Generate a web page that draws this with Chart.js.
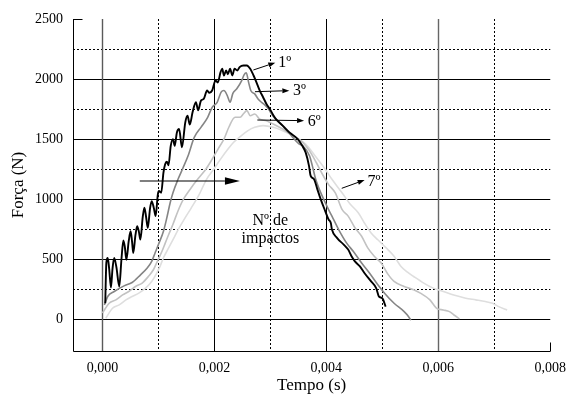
<!DOCTYPE html>
<html><head><meta charset="utf-8">
<script src="https://cdn.jsdelivr.net/npm/chart.js@4.4.1/dist/chart.umd.min.js"></script>
<style>html,body{margin:0;padding:0;background:#fff;}</style>
</head><body>
<canvas id="c" width="575" height="397"></canvas>
<script>
// ---- tick values ----
const xTicks = [0, 0.002, 0.004, 0.006, 0.008];
const yTicks = [0, 500, 1000, 1500, 2000, 2500];
const xMinor = [0.001, 0.003, 0.005, 0.007];
const yMinor = [250, 750, 1250, 1750, 2250];

// ---- series: impact 1 ----
const time1 = [0.00005,0.00007,0.000094,0.00012,0.000152,0.00018,0.00021,0.00025,0.0003,0.00034,0.000374,0.0004,0.000427,0.00047,0.000503,0.00053,0.00055,0.00059,0.00062,0.00065,0.000678,0.00072,0.00075,0.00078,0.00081,0.00085,0.00088,0.00092,0.00095,0.00099,0.00101,0.00105,0.00109,0.00112,0.00115,0.00118,0.00122,0.00126,0.00129,0.00133,0.00137,0.00142,0.00148,0.00152,0.00156,0.00161,0.00167,0.00171,0.00176,0.00181,0.00187,0.00191,0.00196,0.00202,0.00206,0.00211,0.00214,0.00217,0.00221,0.00224,0.00228,0.00232,0.00236,0.00241,0.00245,0.00252,0.00258,0.00264,0.0027,0.00275,0.00281,0.00287,0.00293,0.00299,0.00305,0.0031,0.00322,0.00334,0.00349,0.00357,0.00363,0.00369,0.00372,0.00378,0.00384,0.0039,0.00398,0.00404,0.00408,0.0041,0.00419,0.00431,0.00439,0.00445,0.00451,0.0046,0.00468,0.0048,0.00489,0.00494,0.005,0.00506];
const force1 = [131,470,508,420,262,420,508,430,271,500,655,600,494,650,731,640,550,700,773,730,662,850,927,850,759,920,982,920,857,1038,1066,1052,1220,1290,1310,1280,1443,1499,1443,1555,1583,1430,1639,1694,1620,1722,1806,1740,1820,1834,1904,1885,1904,1988,1970,2057,2085,2029,2071,2040,2085,2029,2085,2071,2099,2113,2113,2085,2029,1974,1904,1848,1792,1750,1700,1666,1611,1555,1499,1443,1388,1276,1192,1164,1080,997,899,829,800,745,676,620,578,522,480,438,383,313,257,187,173,103];

// ---- series: impact 3 ----
const time3 = [0.000035,0.000094,0.00021,0.000386,0.00053,0.00068,0.0008,0.00088,0.00094,0.001,0.00109,0.00115,0.00121,0.00126,0.00135,0.00144,0.00153,0.00164,0.00176,0.00188,0.00196,0.00205,0.00212,0.00217,0.00223,0.00228,0.00233,0.0024,0.00249,0.00253,0.00257,0.00261,0.00265,0.00272,0.00278,0.00284,0.00288,0.00295,0.00305,0.00316,0.00334,0.00351,0.00358,0.0037,0.00375,0.00381,0.00398,0.0041,0.00422,0.00436,0.00448,0.00463,0.00477,0.00492,0.00504,0.00521,0.00539,0.00547,0.00551];
const force3 = [117,187,229,276,304,368,424,480,550,620,731,843,969,1052,1164,1260,1360,1513,1597,1681,1764,1806,1890,1904,1862,1806,1880,1918,1988,2035,2052,1974,1904,1876,1834,1806,1792,1760,1690,1640,1545,1460,1443,1359,1276,1164,969,857,745,634,564,466,383,285,215,131,61,19,-10];

// ---- series: impact 6 ----
const time6 = [0,0.00012,0.00024,0.00036,0.00047,0.00059,0.00071,0.00082,0.00091,0.00097,0.00106,0.00112,0.00118,0.00126,0.00135,0.00145,0.00158,0.0017,0.00185,0.00196,0.00207,0.00217,0.00226,0.00237,0.00246,0.00252,0.00258,0.00264,0.00272,0.00281,0.00293,0.00305,0.00322,0.0034,0.00358,0.0037,0.00382,0.00393,0.00404,0.00416,0.00428,0.00439,0.00451,0.00463,0.00474,0.00486,0.00498,0.00509,0.00521,0.00539,0.00556,0.00568,0.00585,0.00597,0.00609,0.0062,0.00628,0.00638];
const force6 = [50,131,159,201,229,271,299,354,410,470,560,630,700,790,900,1000,1090,1164,1250,1332,1420,1499,1600,1681,1681,1710,1736,1694,1708,1666,1652,1625,1583,1527,1471,1401,1304,1206,1120,1050,913,857,760,689,592,520,466,380,313,271,243,215,159,89,75,61,33,0];

// ---- series: impact 7 ----
const time7 = [0.00006,0.00018,0.0003,0.00042,0.00053,0.00065,0.00077,0.00088,0.00097,0.00103,0.00109,0.00118,0.00127,0.00136,0.00146,0.00158,0.00172,0.00186,0.00199,0.00211,0.00225,0.00234,0.00246,0.0026,0.00272,0.00287,0.00305,0.00322,0.00346,0.00363,0.0038,0.00398,0.0041,0.00428,0.00442,0.00457,0.00468,0.0048,0.00492,0.00504,0.00521,0.00533,0.00545,0.00556,0.00574,0.00591,0.00609,0.00626,0.00649,0.00667,0.00684,0.00697,0.00708,0.00723];
const force7 = [6,89,117,159,187,215,257,313,383,440,510,590,670,750,830,920,1030,1164,1250,1332,1420,1471,1520,1570,1597,1611,1597,1569,1513,1457,1359,1248,1164,1052,960,885,800,717,660,605,522,440,390,354,299,257,229,201,173,159,145,131,103,75];

// ---- annotation texts ----
const seriesLabels = ['1º', '3º', '6º', '7º'];
const noteLines = ['Nº de', 'impactos'];

// annotation anchors (data coordinates)
const labelAnchors = [[0.00314, 2100], [0.003404, 1867], [0.003667, 1608], [0.004737, 1108]];
const arrowFrom = [[0.002696, 2075], [0.002725, 1894], [0.002767, 1658], [0.004275, 1089]];
const arrowTo = [[0.003088, 2136], [0.003339, 1903], [0.003602, 1653], [0.004684, 1158]];
const bigArrow = [[0.000667, 1150], [0.002456, 1150]];
const noteAnchors = [[0.0030, 783], [0.0030, 633]];

const FONT = "'Liberation Serif', 'Times New Roman', serif";

function pts(t, f) {
  const n = Math.min(t.length, f.length);
  const out = [];
  for (let i = 0; i < n; i++) out.push({x: t[i], y: f[i]});
  return out;
}

const gridPlugin = {
  id: 'grid',
  beforeDraw(chart) {
    const c = chart.ctx;
    c.save(); c.fillStyle = '#fff'; c.fillRect(0, 0, chart.width, chart.height); c.restore();
  },
  beforeDatasetsDraw(chart) {
    const {ctx: c, chartArea: a, scales: {x, y}} = chart;
    c.save();
    c.lineWidth = 1;
    c.strokeStyle = '#000';
    c.setLineDash([2, 2]);
    yMinor.forEach(v => {
      const p = Math.round(y.getPixelForValue(v)) + 0.5;
      c.beginPath(); c.moveTo(a.left, p); c.lineTo(a.right, p); c.stroke();
    });
    xMinor.forEach(v => {
      const p = Math.round(x.getPixelForValue(v)) + 0.5;
      c.beginPath(); c.moveTo(p, a.top); c.lineTo(p, a.bottom); c.stroke();
    });
    c.setLineDash([]);
    yTicks.forEach(v => {
      if (v >= y.max) return;
      const p = Math.round(y.getPixelForValue(v)) + 0.5;
      c.beginPath(); c.moveTo(a.left, p); c.lineTo(a.right, p); c.stroke();
    });
    const vColors = ['#5a5a5a', '#000', '#000', '#666'];
    const vWidths = [1.4, 1, 1, 1.4];
    xTicks.forEach((v, i) => {
      if (v >= x.max) return;
      const p = Math.round(x.getPixelForValue(v)) + 0.5;
      c.strokeStyle = vColors[i] || '#000';
      c.lineWidth = vWidths[i] || 1;
      c.beginPath(); c.moveTo(p, a.top); c.lineTo(p, a.bottom); c.stroke();
    });
    c.strokeStyle = '#000'; c.lineWidth = 1;
    const L = Math.round(a.left) + 0.5, B = Math.round(a.bottom) + 0.5;
    c.beginPath(); c.moveTo(L, a.top); c.lineTo(L, B); c.lineTo(a.right, B); c.stroke();
    const T = Math.round(y.getPixelForValue(y.max)) + 0.5;
    c.beginPath(); c.moveTo(L, T); c.lineTo(L + 9, T); c.stroke();
    const R = Math.round(x.getPixelForValue(x.max)) + 0.5;
    c.beginPath(); c.moveTo(R, B); c.lineTo(R, B - 9); c.stroke();
    c.restore();
  },
  afterDatasetsDraw(chart) {
    const {ctx: c, scales: {x, y}} = chart;
    const px = d => [x.getPixelForValue(d[0]), y.getPixelForValue(d[1])];
    function arrow(from, to, len, hw) {
      const [x1, y1] = px(from), [x2, y2] = px(to);
      const ang = Math.atan2(y2 - y1, x2 - x1);
      const bx = x2 - len * Math.cos(ang), by = y2 - len * Math.sin(ang);
      c.beginPath(); c.moveTo(x1, y1); c.lineTo(bx, by); c.stroke();
      c.beginPath();
      c.moveTo(x2, y2);
      c.lineTo(bx + hw * Math.sin(ang), by - hw * Math.cos(ang));
      c.lineTo(bx - hw * Math.sin(ang), by + hw * Math.cos(ang));
      c.closePath(); c.fill();
    }
    c.save();
    c.strokeStyle = '#000'; c.fillStyle = '#000'; c.lineWidth = 1;
    for (let i = 0; i < arrowFrom.length; i++) arrow(arrowFrom[i], arrowTo[i], 7, 2.5);
    c.lineWidth = 1.2;
    arrow(bigArrow[0], bigArrow[1], 15, 3.8);
    c.font = '16px ' + FONT;
    c.textBaseline = 'alphabetic';
    c.textAlign = 'left';
    seriesLabels.forEach((t, i) => { const [a, b] = px(labelAnchors[i]); c.fillText(t, a, b); });
    c.textAlign = 'center';
    noteLines.forEach((t, i) => { const [a, b] = px(noteAnchors[i]); c.fillText(t, a, b); });
    c.restore();
  }
};

const ds = (label, t, f, color, w) => ({
  label, data: pts(t, f), borderColor: color, borderWidth: w,
  pointRadius: 0, fill: false, cubicInterpolationMode: 'monotone', showLine: true
});

new Chart(document.getElementById('c'), {
  type: 'line',
  data: {
    datasets: [
      ds('1º', time1, force1, '#000000', 1.9),
      ds('3º', time3, force3, '#858585', 1.6),
      ds('6º', time6, force6, '#c2c2c2', 1.6),
      ds('7º', time7, force7, '#dedede', 1.6)
    ]
  },
  options: {
    responsive: false,
    animation: false,
    devicePixelRatio: 1,
    layout: {padding: {left: 0, right: 16, top: 19, bottom: 0}},
    plugins: {legend: {display: false}, tooltip: {enabled: false}},
    scales: {
      x: {
        type: 'linear', min: -0.000526, max: 0.008,
        grid: {display: false, drawTicks: false}, border: {display: false},
        afterBuildTicks: s => { s.ticks = xTicks.map(v => ({value: v})); },
        afterFit: s => { s.height = 46; },
        ticks: {
          color: '#000', font: {family: FONT, size: 14}, padding: 9, maxRotation: 0,
          callback: v => v.toFixed(3).replace('.', ',')
        },
        title: {display: true, text: 'Tempo (s)', color: '#000', font: {family: FONT, size: 17}, padding: {top: 0, bottom: 1}}
      },
      y: {
        type: 'linear', min: -267, max: 2500,
        grid: {display: false, drawTicks: false}, border: {display: false},
        afterBuildTicks: s => { s.ticks = yTicks.map(v => ({value: v})); },
        afterFit: s => { s.width = 73; },
        ticks: {color: '#000', font: {family: FONT, size: 14}, padding: 10, callback: v => String(v)},
        title: {display: true, text: 'Força (N)', color: '#000', font: {family: FONT, size: 17}, padding: {top: 8, bottom: 0}}
      }
    }
  },
  plugins: [gridPlugin]
});
</script>
</body></html>
